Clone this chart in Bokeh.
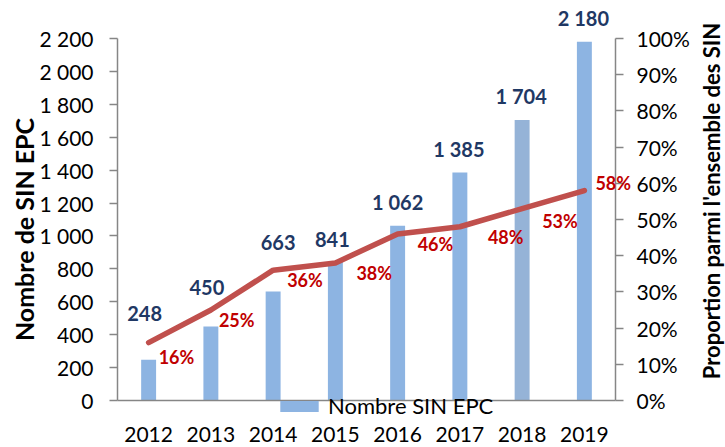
import math
from bokeh.plotting import figure
from bokeh.models import (ColumnDataSource, Range1d, LinearAxis, FixedTicker,
                          Legend, LegendItem, LabelSet, Label)
from bokeh.core.properties import value
from bokeh.embed import file_html
from bokeh.resources import INLINE

# ---------------- data ----------------
years = ["2012", "2013", "2014", "2015", "2016", "2017", "2018", "2019"]
counts = [248, 450, 663, 841, 1062, 1385, 1704, 2180]
shares = [0.16, 0.25, 0.36, 0.38, 0.46, 0.48, 0.53, 0.58]
count_ticks = [0, 200, 400, 600, 800, 1000, 1200, 1400, 1600, 1800, 2000, 2200]
count_tick_labels = ["0", "200", "400", "600", "800", "1 000", "1 200", "1 400",
                     "1 600", "1 800", "2 000", "2 200"]
share_ticks = [0.0, 0.1, 0.2, 0.3, 0.4, 0.5, 0.6, 0.7, 0.8, 0.9, 1.0]
share_tick_labels = ["0%", "10%", "20%", "30%", "40%", "50%", "60%", "70%",
                     "80%", "90%", "100%"]
series_name = "Nombre SIN EPC"
left_title = "Nombre de SIN EPC"
right_title = "Proportion parmi l'ensemble des SIN"

# ---------------- styles / layout ----------------
FONT = "Lato"
bar_colors = ["#8DB4E2", "#8DB4E2", "#8DB4E2", "#8DB4E2", "#8DB4E2", "#8DB4E2",
              "#95B3D7", "#8DB4E2"]
# label nudges in screen pixels (x right, y down)
count_label_dx = [-4, -4, 5, -3, 0, -1, -1, -1]
count_label_dy = [-46, -39, -49, -23, -24, -24, -24, -24]
share_label_dx = [10, 8, 14, 21, 20, 28, 20, 11]
share_label_dy = [14, 10, 10, 10, 10, 10, 12, -8]

W, H = 725, 447
AX_LEFT, AX_RIGHT = 117, 615        # pixel x of the two value axes
AX_ZERO, AX_TOP = 400, 38           # pixel y of 0 and of the axis maximum
n = len(years)
cmax = count_ticks[-1]
smax = share_ticks[-1]
xpx = (AX_RIGHT - AX_LEFT) / n      # pixels per category
cpx = (AX_ZERO - AX_TOP) / cmax     # pixels per count unit
spx = (AX_ZERO - AX_TOP) / smax     # pixels per share unit


def x_at(px):
    return (px - AX_LEFT) / xpx


def c_at(py):
    return (AX_ZERO - py) / cpx


xpos = [i + 0.5 for i in range(n)]

src = ColumnDataSource(dict(
    x=xpos, count=counts, share=shares, color=bar_colors,
    count_text=[f"{c:,}".replace(",", " ") for c in counts],
    share_text=[f"{round(s * 100)}%" for s in shares],
    cdx=count_label_dx, cdy=count_label_dy,
    sdx=share_label_dx, sdy=[-d for d in share_label_dy],
))

p = figure(x_range=Range1d(x_at(0), x_at(W)),
           y_range=Range1d(c_at(H), c_at(0)),
           width=W, height=H, output_backend="svg", toolbar_location=None,
           min_border_left=0, min_border_right=0,
           min_border_top=0, min_border_bottom=0)
p.extra_y_ranges = {"pct": Range1d((AX_ZERO - H) / spx, AX_ZERO / spx)}
p.outline_line_color = None
p.xgrid.grid_line_color = None
p.ygrid.grid_line_color = None
p.background_fill_color = "white"
p.border_fill_color = "white"

AX = "#868686"

bars = p.vbar(x="x", top="count", bottom=0, width=0.24, fill_color="color",
              line_color=None, source=src)

p.line(x="x", y="share", y_range_name="pct", line_color="#C0504D",
       line_width=5.5, line_cap="round", line_join="round", source=src)

p.text(x="x", y="count", text="count_text", x_offset="cdx", y_offset="cdy",
       text_align="center", text_baseline="middle", text_font=value(FONT),
       text_font_style="bold", text_font_size="20px", text_color="#1F3864",
       source=src)

p.add_layout(LabelSet(x="x", y="share", text="share_text", x_offset="sdx",
                      y_offset="sdy", y_range_name="pct", text_align="left",
                      text_baseline="middle", text_font=value(FONT),
                      text_font_style="bold", text_font_size="18px",
                      text_color="#C00000", source=src))


def style_value_axis(a, ticks, labels, bounds, standoff):
    a.bounds = bounds
    a.ticker = FixedTicker(ticks=ticks)
    a.major_label_overrides = {t: l for t, l in zip(ticks, labels)}
    a.axis_line_color = AX
    a.axis_line_width = 1.5
    a.major_tick_line_color = AX
    a.major_tick_line_width = 1.5
    a.major_tick_out = 8
    a.major_tick_in = 0
    a.minor_tick_line_color = None
    a.major_label_text_font = FONT
    a.major_label_text_font_size = "21px"
    a.major_label_text_color = "black"
    a.major_label_standoff = standoff


# left axis, pinned at the first category edge
ya = p.yaxis[0]
ya.fixed_location = 0
style_value_axis(ya, count_ticks, count_tick_labels, (0, cmax), 16)

# right axis, pinned at the last category edge
ra = LinearAxis(y_range_name="pct", fixed_location=n)
style_value_axis(ra, share_ticks, share_tick_labels, (0, smax), 13)
p.add_layout(ra, "right")

# bottom axis, pinned at zero
xa = p.xaxis[0]
xa.fixed_location = 0
xa.bounds = (0, n)
xa.ticker = FixedTicker(ticks=xpos)
xa.major_label_overrides = {x: y for x, y in zip(xpos, years)}
xa.axis_line_color = AX
xa.axis_line_width = 1.5
xa.major_tick_line_color = None
xa.minor_tick_line_color = None
xa.major_label_text_font = FONT
xa.major_label_text_font_size = "21px"
xa.major_label_text_color = "black"
xa.major_label_standoff = 20

# axis titles
p.add_layout(Label(x=x_at(23.5), y=c_at(229), text=left_title, angle=math.pi / 2,
                   text_align="center", text_baseline="middle",
                   text_font=FONT, text_font_style="bold",
                   text_font_size="25px", text_color="black"))
p.add_layout(Label(x=x_at(710.5), y=c_at(200.5), text=right_title, angle=math.pi / 2,
                   text_align="center", text_baseline="middle",
                   text_font=FONT, text_font_style="bold",
                   text_font_size="22px", text_color="black"))

legend = Legend(items=[LegendItem(label=series_name, renderers=[bars], index=0)],
                location=(275, H - 419), orientation="horizontal",
                glyph_width=48, glyph_height=14, label_height=14,
                padding=0, margin=0, spacing=0, label_standoff=5,
                background_fill_alpha=0, border_line_alpha=0,
                label_text_font=FONT, label_text_font_size="22px",
                label_text_baseline="alphabetic",
                label_text_color="black")
p.add_layout(legend)

open("out.html", "w").write(file_html(p, INLINE))
